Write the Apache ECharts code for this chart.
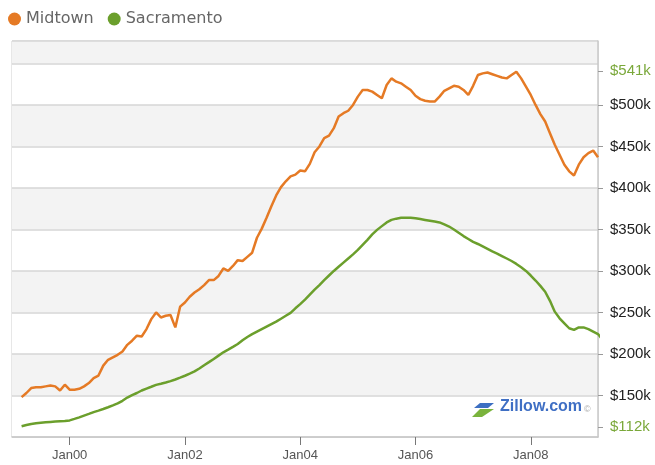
<!DOCTYPE html>
<html lang="en">
<head>
    <meta charset="UTF-8">
    <title>midtown-vs-sacramento</title>
    <script src="https://cdn.jsdelivr.net/npm/echarts@6.0.0/dist/echarts.min.js"></script>
</head>
<body style="margin:0;background:#fff">
<div id="main" style="width: 655px;height:465px;"></div>
<script>
    // monthly index values in $k, Mar 1999 .. Mar 2009
    var firstYear = 1999;
    var firstMonth = 2;   // Mar (0 = Jan); axis starts in Jan 1999
    var midtown = [
        148, 153, 159, 160, 160, 161, 162, 161, 156, 163, 157,
        157, 158, 161, 165, 171, 174, 186, 193, 196, 199, 203, 211,
        216, 222, 221, 230, 242, 250, 244, 246, 247, 232, 257, 262,
        269, 274, 278, 283, 289, 289, 294, 303, 300, 306, 313, 312,
        317, 322, 340, 351, 364, 378, 391, 401, 408, 414, 416, 421,
        420, 429, 443, 450, 460, 463, 472, 486, 490, 493, 500, 510,
        518, 518, 516, 512, 508, 524, 532, 528, 526, 522, 518, 511,
        507, 505, 504, 504, 510, 517, 520, 523, 522, 518, 512, 523,
        536, 538, 539, 537, 535, 533, 532, 536, 540, 532, 522, 512,
        500, 489, 480, 466, 452, 440, 428, 420, 415, 428, 437, 442,
        445, 437
    ];
    var sacramento = [
        113, 114.5, 115.7, 116.5, 117.3, 117.8, 118.2, 118.6, 119, 119.3, 120,
        121.8, 123.7, 125.8, 127.8, 130, 131.8, 133.7, 135.8, 138, 140.4, 143.6, 147.5,
        150.5, 153, 156, 158.3, 160.5, 162.8, 164.2, 165.7, 167.3, 169.3, 171.5, 173.8,
        176.3, 179, 182.5, 186.5, 190.2, 194, 198, 202, 205.2, 208.5, 212, 216.5,
        220.5, 224, 227, 230, 233, 236, 239, 242.5, 246, 249.5, 255, 260,
        265.5, 271.5, 277.5, 283, 289, 294.5, 300, 305, 310, 315, 320, 325.5,
        331.5, 337.5, 344, 349.5, 354, 358.5, 361.5, 363, 364, 364.2, 364, 363.5,
        362.5, 361.5, 360.5, 359.5, 358.5, 356, 353.5, 350, 346, 342, 338.5, 335,
        332.5, 329.5, 326.5, 323.5, 321, 318, 315, 312, 308.5, 304.5, 300, 294.5,
        288.5, 282, 275, 264, 251, 243, 237, 231, 229, 232, 232, 230,
        227, 224, 217
    ];
    var yLabels = [112, 150, 200, 250, 300, 350, 400, 450, 500, 541];
    var yMarked = [112, 541];   // min / max shown in green

    var monthNames = ['Jan','Feb','Mar','Apr','May','Jun','Jul','Aug','Sep','Oct','Nov','Dec'];
    var months = [];
    var total = firstMonth + midtown.length;
    for (var i = 0; i < total; i++) {
        var yy = (firstYear + Math.floor(i / 12)) % 100;
        months.push(monthNames[i % 12] + (yy < 10 ? '0' + yy : '' + yy));
    }
    var pad = [];
    for (var j = 0; j < firstMonth; j++) pad.push(null);

    var showJanEven = function (idx, val) {
        return val.slice(0, 3) === 'Jan' && parseInt(val.slice(3), 10) % 2 === 0;
    };

    var chart = echarts.init(document.getElementById('main'));
    var option = {
        animation: false,
        color: ['#e57a25', '#6b9f2c'],
        legend: {
            left: 3,
            top: 6,
            icon: 'circle',
            itemWidth: 13,
            itemHeight: 13,
            itemGap: 14,
            textStyle: {color: '#666', fontSize: 16, fontFamily: 'DejaVu Sans'},
            data: ['Midtown', 'Sacramento']
        },
        grid: {
            left: 12,
            right: 57,
            top: 41,
            bottom: 28,
            show: true,
            borderColor: '#cfcfcf',
            borderWidth: 1
        },
        xAxis: {
            type: 'category',
            boundaryGap: false,
            data: months,
            axisLine: {lineStyle: {color: '#c8c8c8', width: 1.5}},
            axisTick: {interval: showJanEven, length: 8, lineStyle: {color: '#777'}},
            axisLabel: {
                interval: showJanEven,
                color: '#555',
                fontSize: 13,
                fontFamily: 'Liberation Sans',
                margin: 12
            },
            splitLine: {show: false}
        },
        yAxis: [{
            type: 'value',
            position: 'right',
            min: 100,
            max: 577,
            interval: 50,
            splitArea: {show: true, areaStyle: {color: ['#ffffff', '#f3f3f3']}},
            splitLine: {show: true, lineStyle: {color: '#d6d6d6', width: 1.5}},
            axisLine: {show: true, lineStyle: {color: '#c8c8c8', width: 1.5}},
            axisTick: {show: false},
            axisLabel: {show: false}
        }, {
            type: 'value',
            position: 'right',
            min: 100,
            max: 577,
            splitLine: {show: false},
            axisLine: {show: false},
            axisTick: {show: true, length: 5, customValues: yLabels, lineStyle: {color: '#999'}},
            axisLabel: {
                customValues: yLabels,
                margin: 12,
                fontSize: 15,
                fontFamily: 'Liberation Sans',
                color: '#222',
                formatter: function (v) {
                    var t = '$' + v + 'k';
                    return yMarked.indexOf(v) >= 0 ? '{g|' + t + '}' : t;
                },
                rich: {g: {color: '#7aa83a', fontSize: 15, fontFamily: 'Liberation Sans'}}
            }
        }],
        // Zillow watermark
        graphic: {
            type: 'group',
            left: 472,
            top: 399,
            z: 100,
            children: [
                {type: 'polygon', z: 100, shape: {points: [[8, 4], [22, 4], [16, 9], [2, 9]]}, style: {fill: '#3d6fc2'}},
                {type: 'polygon', z: 100, shape: {points: [[8, 10], [22, 10], [10, 18], [0, 18]]}, style: {fill: '#7ab33c'}},
                {type: 'text', z: 100, x: 28, y: 0, style: {text: 'Zillow.com', fill: '#3f6fc4', fontSize: 16, fontWeight: 'bold', fontFamily: 'Liberation Sans'}},
                {type: 'text', z: 100, x: 112, y: 6, style: {text: '\u00a9', fill: '#aaa', fontSize: 9, fontFamily: 'Liberation Sans'}}
            ]
        },
        series: [{
            name: 'Midtown',
            type: 'line',
            yAxisIndex: 0,
            symbol: 'none',
            lineStyle: {width: 2.5},
            data: pad.concat(midtown)
        }, {
            name: 'Sacramento',
            type: 'line',
            yAxisIndex: 0,
            symbol: 'none',
            lineStyle: {width: 2.5},
            data: pad.concat(sacramento)
        }]
    };
    chart.setOption(option);
</script>
</body>
</html>
